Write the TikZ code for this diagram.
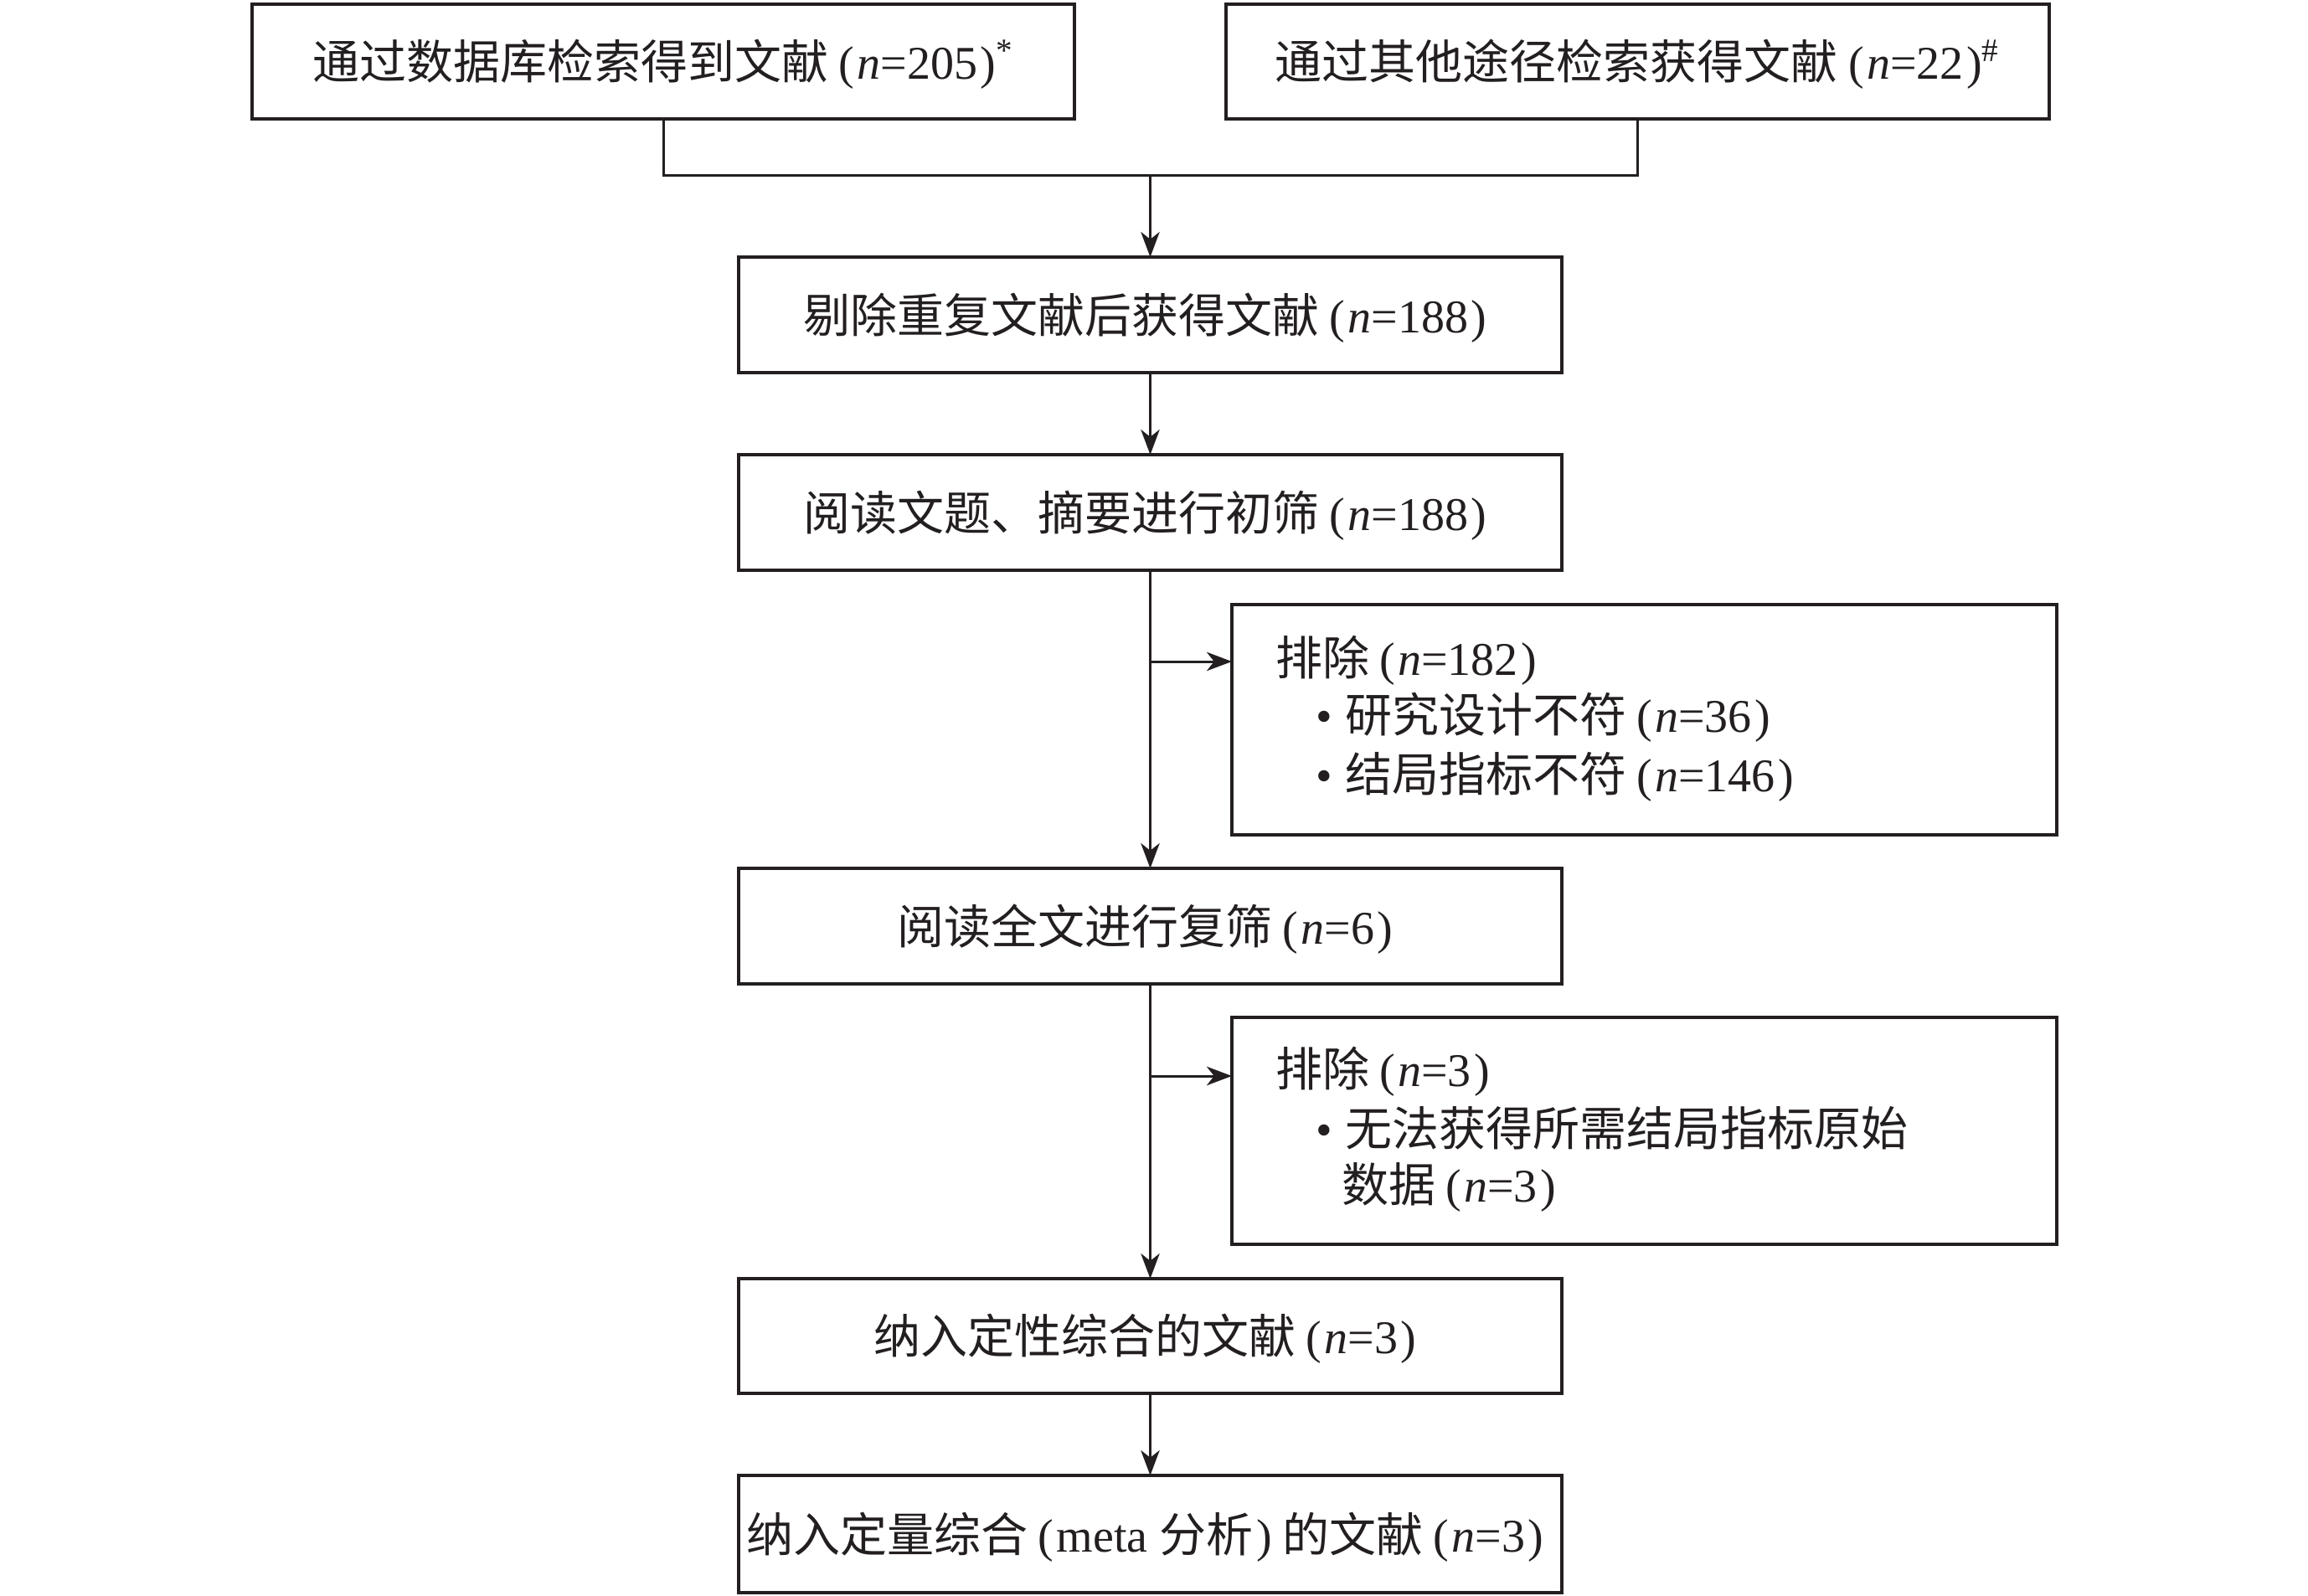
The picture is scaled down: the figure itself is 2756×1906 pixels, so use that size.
\documentclass[tikz,border=0pt]{standalone}
\usepackage{fontspec}
\setmainfont{Liberation Serif}
\newfontfamily\cjk{Noto Sans CJK SC}
\usetikzlibrary{arrows.meta}
\definecolor{ink}{HTML}{231F20}
\newcommand{\zh}[1]{{\cjk #1}}
\newcommand{\lpar}{\kern0.22em(\kern0.06em}
\newcommand{\rparx}{\kern0.06em)}
\newcommand{\rpar}{\rparx\kern0.22em}
\newcommand{\nval}[1]{\lpar\textit{n}=#1\rpar}
\newcommand{\bul}{\llap{•\hspace{3.8pt}}}
\begin{document}
\begin{tikzpicture}[x=0.25pt,y=-0.25pt,
  every node/.style={text=ink, font=\fontsize{14pt}{17.5pt}\selectfont, text height=12.32pt, text depth=1.68pt, inner sep=0pt, outer sep=0pt},
  box/.style={draw=ink, line width=0.95pt, minimum width=245.75pt, minimum height=34.5pt},
  line/.style={draw=ink, line width=0.75pt},
  arr/.style={line, -{Stealth[length=7.5pt,width=5.6pt,inset=2.2pt]}},
  txt/.style={anchor=west}]
\useasboundingbox (0,0) rectangle (2756,1906);
\node[box, minimum width=245.5pt, minimum height=34.25pt] (A) at (792,73.5) {\zh{通过数据库检索得到文献}\lpar\textit{n}=205\rparx\textsuperscript{*}};
\node[box, minimum height=34.25pt] (B) at (1955.5,73.5) {\zh{通过其他途径检索获得文献}\lpar\textit{n}=22\rparx\textsuperscript{\#}};
\node[box] (C) at (1373.5,376) {\zh{剔除重复文献后获得文献}\nval{188}};
\node[box] (D) at (1373.5,612) {\zh{阅读文题、摘要进行初筛}\nval{188}};
\node[box, minimum width=246.25pt, minimum height=68.75pt] (E1) at (1963.5,859.5) {};
\node[txt] (E1a) at (1523,785) {\zh{排除}\nval{182}};
\node[txt] (E1b) at (1606,853) {\bul\zh{研究设计不符}\nval{36}};
\node[txt] (E1c) at (1606,924) {\bul\zh{结局指标不符}\nval{146}};
\node[box] (F) at (1373.5,1106) {\zh{阅读全文进行复筛}\nval{6}};
\node[box, minimum width=246.25pt, minimum height=67.75pt] (E2) at (1963.5,1350.5) {};
\node[txt] (E2a) at (1523,1276) {\zh{排除}\nval{3}};
\node[txt] (E2b) at (1606,1347) {\bul\zh{无法获得所需结局指标原始}};
\node[txt] (E2c) at (1602,1414) {\zh{数据}\nval{3}};
\node[box, minimum height=34.25pt] (G) at (1373.5,1595.5) {\zh{纳入定性综合的文献}\nval{3}};
\node[box, minimum height=35pt] (H) at (1373.5,1832) {\zh{纳入定量综合}\lpar meta \zh{分析}\rpar\zh{的文献}\nval{3}};
\coordinate (jn) at (1373.5,209);
\draw[line] (A.south) |- (jn) -| (B.south);
\draw[arr] (jn) -- (C.north);
\draw[arr] (C) -- (D);
\draw[arr] (D) -- (F);
\coordinate (b1) at (1373.5,790);
\draw[arr] (b1) -- (b1 -| E1.west);
\draw[arr] (F) -- (G);
\coordinate (b2) at (1373.5,1285);
\draw[arr] (b2) -- (b2 -| E2.west);
\draw[arr] (G) -- (H);
\end{tikzpicture}
\end{document}
